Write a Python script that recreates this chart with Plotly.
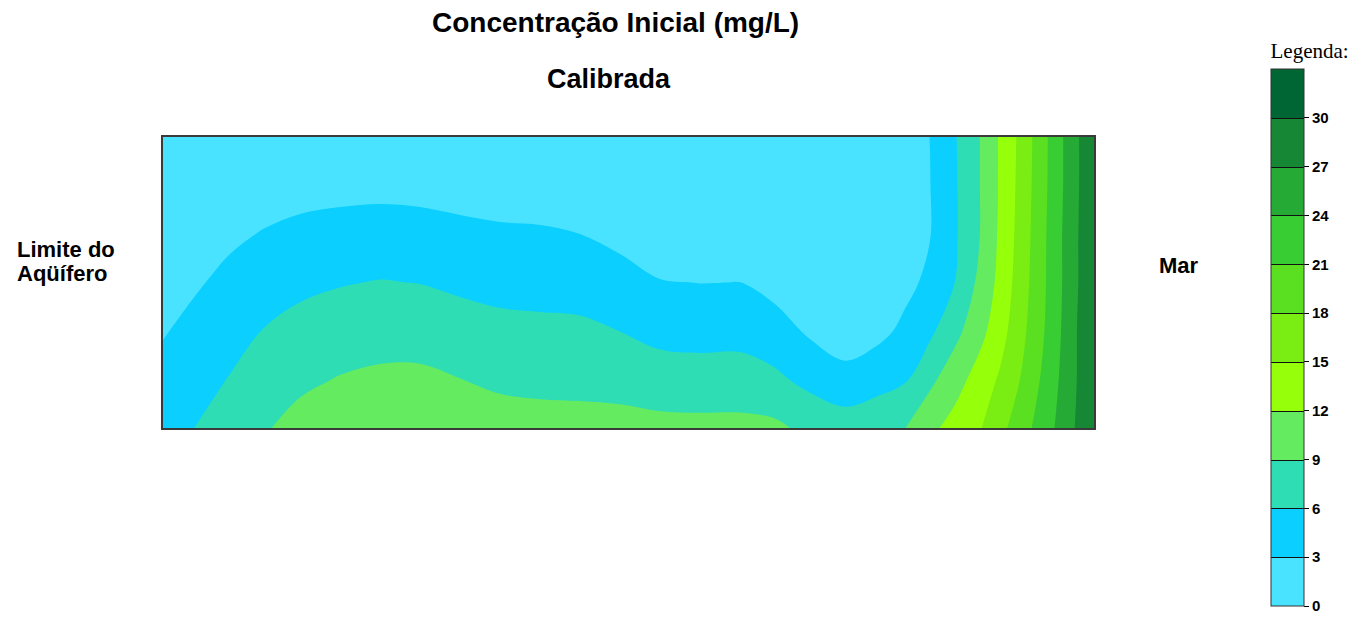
import plotly.graph_objects as go

# ---- data ----
# horizontal position across the section (0 = aquifer limit, 931 = sea side)
distancia = [0, 32, 67, 102, 137, 177, 217, 257, 297, 337, 377, 417, 457, 497, 537,
             577, 612, 647, 682, 712, 742, 767, 792, 817, 837, 857, 877, 897, 915, 931]
# depth (0 = top of section)
profundidade = [0, 48.5, 97, 145.5, 194, 242.5, 291]

# initial concentration (mg/L), one row per depth
conc_d0 = [0.5, 0.6, 0.7, 0.5, 0.4, 0.4, 0.4, 0.4, 0.3, 0.2, 0.2, 0.2, 0.1, 0.1, 0.1,
           0.1, 0.2, 0.3, 0.4, 0.8, 2.0, 3.02, 5.78, 9.02, 12.32, 15.6, 19.5, 23.4, 26.8, 29.6]
conc_d1 = [0.8, 1.1, 1.4, 1.7, 2.02, 2.19, 2.26, 2.16, 1.92, 1.73, 1.64, 1.60, 0.4, 0.3, 0.3,
           0.3, 0.4, 0.5, 0.6, 0.9, 2.0, 2.95, 5.67, 9.02, 12.33, 15.8, 19.6, 23.4, 26.8, 29.6]
conc_d2 = [1.3, 1.8, 2.5, 3.18, 3.69, 4.01, 4.2, 4.05, 3.70, 3.42, 3.31, 3.0, 2.22, 1.15, 0.92,
           1.03, 1.0, 1.0, 0.9, 1.2, 2.1, 2.9, 5.65, 9.02, 12.5, 16.0, 19.8, 23.6, 26.95, 29.7]
conc_d3 = [2.0, 2.69, 3.71, 4.67, 5.36, 5.83, 6.12, 5.94, 5.47, 5.11, 4.98, 4.87, 4.11, 3.14, 2.96,
           3.02, 2.02, 1.7, 1.3, 1.6, 2.3, 3.58, 6.02, 9.75, 12.83, 16.4, 19.9, 23.6, 26.95, 29.7]
conc_d4 = [2.8, 3.80, 4.91, 6.14, 6.94, 7.50, 7.84, 7.79, 7.25, 6.80, 6.66, 6.53, 5.98, 5.13, 4.96,
           5.01, 4.23, 2.57, 1.9, 2.11, 3.59, 5.41, 8.13, 11.08, 13.8, 17.0, 20.2, 23.8, 27.2, 29.8]
conc_d5 = [3.88, 4.91, 6.14, 7.46, 8.45, 9.15, 9.54, 9.58, 9.04, 8.50, 8.33, 8.24, 7.99, 7.40, 7.26,
           7.29, 6.57, 5.17, 3.7, 4.81, 5.7, 8.3, 10.8, 13.3, 15.4, 18.02, 21.02, 24.2, 27.2, 29.8]
conc_d6 = [4.96, 6.03, 7.59, 8.78, 9.93, 10.8, 11.24, 11.3, 10.7, 10.19, 9.98, 9.95, 9.96, 9.85, 9.8,
           9.8, 9.6, 8.2, 7.8, 8.08, 8.95, 11.3, 13.1, 14.8, 17.1, 19.6, 22.0, 24.75, 27.5, 29.9]

# legend classes
nivel_inicio, nivel_fim, nivel_passo = 3, 30, 3
escala_min, escala_max = 0, 33
tick_valores = [0, 3, 6, 9, 12, 15, 18, 21, 24, 27, 30]
cores_classes = ["#4AE3FF", "#0ACFFF", "#2FDDB5", "#64EB60", "#96FF0A", "#7AED12",
                 "#5AE021", "#38CD32", "#25AA35", "#168734", "#006633"]

z = [conc_d0, conc_d1, conc_d2, conc_d3, conc_d4, conc_d5, conc_d6]

# stepped colour scale (colour map spans 0..30 -> 0..1); each class colour is
# centred so that both the lower level and the band middle fall inside it
n_cls = len(cores_classes)
colorscale = []
for k, c in enumerate(cores_classes):
    lo = max(0.0, 0.1 * k - 0.025)
    hi = 1.0 if k == n_cls - 1 else min(1.0, 0.1 * k + 0.075)
    colorscale.append([round(lo, 4), c])
    colorscale.append([round(hi, 4), c])

W, H = 1362, 618
L, R, T, B = 163, 268, 137, 190
pw, ph = W - L - R, H - T - B


def px_x(px):
    return (px - L) / pw


def px_y(py):
    return (H - B - py) / ph


contours = dict(start=nivel_inicio, end=nivel_fim, size=nivel_passo, coloring="fill")

fig = go.Figure()
fig.add_trace(go.Contour(
    x=distancia, y=profundidade, z=z,
    autocontour=False, contours=dict(contours, showlines=False),
    line=dict(width=0, smoothing=1),
    colorscale=colorscale, zmin=escala_min, zmax=escala_max, zauto=False,
    showscale=False, hoverinfo="x+y+z",
))
# same field on a hidden axis: only used to draw the legend bar with class separators
fig.add_trace(go.Contour(
    x=distancia, y=profundidade, z=z, xaxis="x2",
    autocontour=False, contours=dict(contours, showlines=True),
    line=dict(width=1, color="#111111"),
    colorscale=colorscale, zmin=escala_min, zmax=escala_max, zauto=False,
    showscale=True, hoverinfo="skip",
    colorbar=dict(
        title=dict(text="Legenda:", side="top",
                   font=dict(family="Liberation Serif, Times New Roman, serif", size=21, color="black")),
        x=px_x(1271), xanchor="left", xpad=0,
        y=px_y(40), yanchor="top", ypad=0,
        len=566, lenmode="pixels", thickness=33,
        outlinewidth=1, outlinecolor="#333333",
        tickmode="array", tickvals=tick_valores,
        ticks="outside", ticklen=5, tickwidth=1, tickcolor="black",
        tickfont=dict(family="Liberation Sans, Arial, sans-serif", size=15, color="black", weight="bold"),
    ),
))

fig.update_layout(
    width=W, height=H,
    margin=dict(l=L, r=R, t=T, b=B, pad=0),
    paper_bgcolor="white", plot_bgcolor="white",
    showlegend=False,
    xaxis=dict(range=[distancia[0], distancia[-1]], showgrid=False, zeroline=False,
               showticklabels=False, ticks="", showline=True, mirror=True,
               linecolor="#3a3a3a", linewidth=2),
    xaxis2=dict(overlaying="x", range=[5000, 6000], visible=False),
    yaxis=dict(range=[profundidade[-1], profundidade[0]], showgrid=False, zeroline=False,
               showticklabels=False, ticks="", showline=True, mirror=True,
               linecolor="#3a3a3a", linewidth=2),
    font=dict(family="Liberation Sans, Arial, sans-serif", color="black"),
)

bold = dict(family="Liberation Sans, Arial, sans-serif", color="black", weight="bold")
ann = [
    dict(text="Concentração Inicial (mg/L)", x=px_x(615.5), y=px_y(22.5), xanchor="center",
         yanchor="middle", font=dict(bold, size=28)),
    dict(text="Calibrada", x=px_x(608.5), y=px_y(78.5), xanchor="center",
         yanchor="middle", font=dict(bold, size=27)),
    dict(text="Limite do", x=px_x(15), y=px_y(249.5), xanchor="left",
         yanchor="middle", font=dict(bold, size=22)),
    dict(text="Aqüífero", x=px_x(15), y=px_y(273), xanchor="left",
         yanchor="middle", font=dict(bold, size=22)),
    dict(text="Mar", x=px_x(1157), y=px_y(265), xanchor="left",
         yanchor="middle", font=dict(bold, size=22)),
]
for a in ann:
    fig.add_annotation(xref="paper", yref="paper", showarrow=False, **a)

# the page body has a default 8px margin; remove it so the figure sits at the window origin
fig.write_html("out.html", config={"displayModeBar": False},
               post_script="document.body.style.margin='0';")
